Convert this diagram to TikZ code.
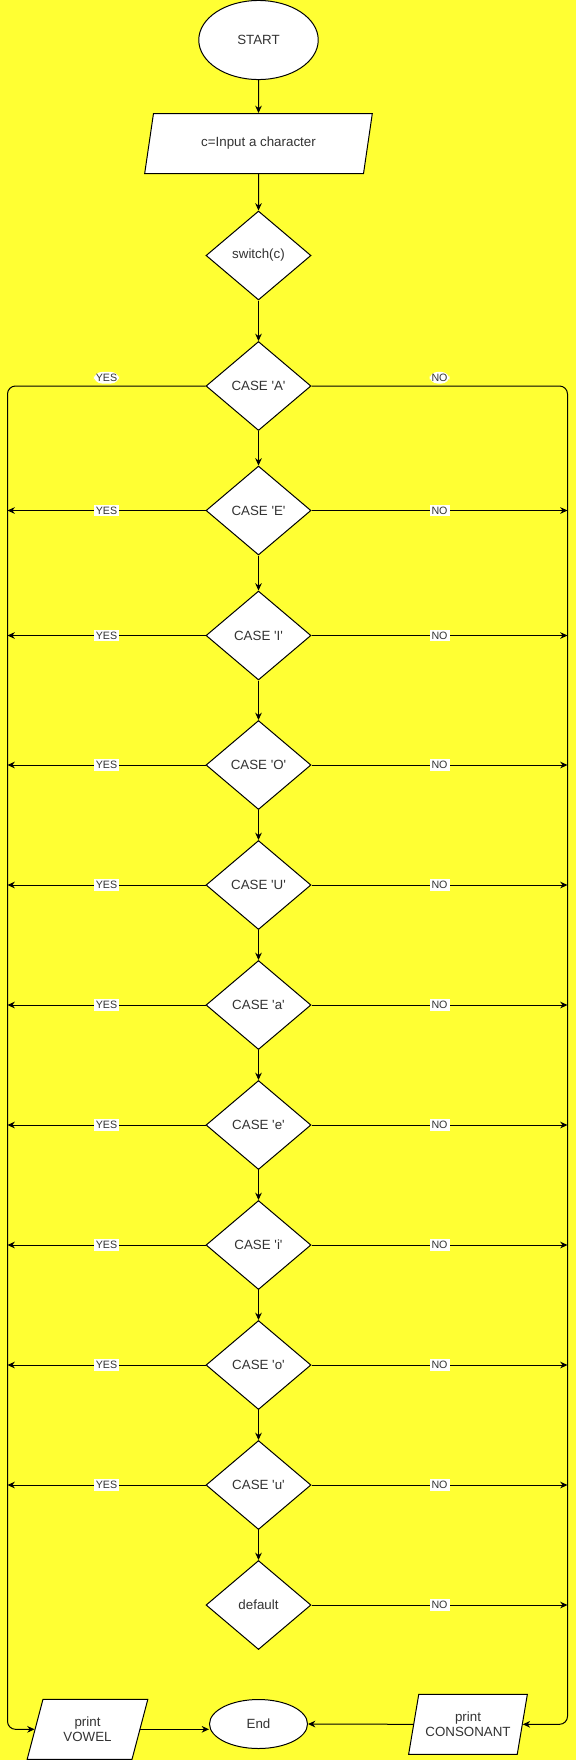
\documentclass[tikz,border=0pt]{standalone}
\usepackage{fontspec}
\setmainfont{Liberation Sans}
\usepackage{xcolor}
\usepackage{tikz}
\usetikzlibrary{shapes,arrows,positioning,calc,arrows.meta}

\definecolor{bgyellow}{HTML}{FFFF33}
\newcommand{\quoted}[1]{\textquotesingle#1\textquotesingle}

\begin{document}
\begin{tikzpicture}[x=0.75pt, y=-0.75pt, line width=0.75pt,
    font=\fontsize{10}{11.5}\selectfont, text=black!80,
    terminal/.style={ellipse, draw, fill=white},
    io/.style={trapezium, trapezium left angle=72, trapezium right angle=108, trapezium stretches=true, draw, fill=white, align=center, inner sep=1pt, minimum height=45pt},
    decision/.style={diamond, draw, fill=white, aspect=1.18, inner sep=0pt, minimum width=78.75pt, minimum height=66.75pt},
    flow/.style={-{Stealth[length=5.5pt,width=5pt]}},
    answer/.style={fill=white, inner sep=1.5pt, font=\fontsize{8}{9}\selectfont}]
        \fill[bgyellow] (0,0) rectangle (576,1760);
        \useasboundingbox (0,0) rectangle (576,1760);

        \node[terminal, minimum width=89.6pt, minimum height=59.3pt] (start) at (258.5,40) {START};
        \node[io, minimum width=172.5pt] (input) at (258.5,143.5) {c=Input a character};
        \node[decision] (switch) at (258.5,255.5) {switch(c)};

        \node[decision] (caseA) at (258.5,386) {CASE \quoted{A}};
        \node[decision] (caseE) at (258.5,510.5) {CASE \quoted{E}};
        \node[decision] (caseI) at (258.5,635.5) {CASE \quoted{I}};
        \node[decision] (caseO) at (258.5,765) {CASE \quoted{O}};
        \node[decision] (caseU) at (258.5,885) {CASE \quoted{U}};
        \node[decision] (casea) at (258.5,1005) {CASE \quoted{a}};
        \node[decision] (casee) at (258.5,1125) {CASE \quoted{e}};
        \node[decision] (casei) at (258.5,1245) {CASE \quoted{i}};
        \node[decision] (caseo) at (258.5,1365) {CASE \quoted{o}};
        \node[decision] (caseu) at (258.5,1485) {CASE \quoted{u}};
        \node[decision] (default) at (258.5,1605) {default};

        \node[terminal, minimum width=73.5pt, minimum height=36.75pt] (end) at (258.5,1724) {End};
        \node[io, minimum width=90.75pt] (vowel) at (87.5,1729.3) {print\\VOWEL};
        \node[io, minimum width=89.7pt] (consonant) at (468,1724.3) {print\\CONSONANT};

        \coordinate (railL) at (7.5,386);
        \coordinate (railR) at (567.5,386);

        \draw[flow] (start) -- (input);
        \draw[flow] (input) -- (switch);
        \draw[flow] (switch) -- (caseA);
        \draw[flow] (caseA) -- (caseE);
        \draw[flow] (caseE) -- (caseI);
        \draw[flow] (caseI) -- (caseO);
        \draw[flow] (caseO) -- (caseU);
        \draw[flow] (caseU) -- (casea);
        \draw[flow] (casea) -- (casee);
        \draw[flow] (casee) -- (casei);
        \draw[flow] (casei) -- (caseo);
        \draw[flow] (caseo) -- (caseu);
        \draw[flow] (caseu) -- (default);

        \draw[flow, rounded corners=6pt] (caseA.west) -- node[answer, above=1.5pt] {YES} (railL) -- (railL |- vowel.west) -- (vowel.west);
        \draw[flow, rounded corners=6pt] (caseA.east) -- node[answer, above=1.5pt] {NO} (railR) -- (railR |- consonant.east) -- (consonant.east);

        \draw[flow] (caseE.west) -- node[answer] {YES} (caseE.west -| railL);
        \draw[flow] (caseE.east) -- node[answer] {NO} (caseE.east -| railR);
        \draw[flow] (caseI.west) -- node[answer] {YES} (caseI.west -| railL);
        \draw[flow] (caseI.east) -- node[answer] {NO} (caseI.east -| railR);
        \draw[flow] (caseO.west) -- node[answer] {YES} (caseO.west -| railL);
        \draw[flow] (caseO.east) -- node[answer] {NO} (caseO.east -| railR);
        \draw[flow] (caseU.west) -- node[answer] {YES} (caseU.west -| railL);
        \draw[flow] (caseU.east) -- node[answer] {NO} (caseU.east -| railR);
        \draw[flow] (casea.west) -- node[answer] {YES} (casea.west -| railL);
        \draw[flow] (casea.east) -- node[answer] {NO} (casea.east -| railR);
        \draw[flow] (casee.west) -- node[answer] {YES} (casee.west -| railL);
        \draw[flow] (casee.east) -- node[answer] {NO} (casee.east -| railR);
        \draw[flow] (casei.west) -- node[answer] {YES} (casei.west -| railL);
        \draw[flow] (casei.east) -- node[answer] {NO} (casei.east -| railR);
        \draw[flow] (caseo.west) -- node[answer] {YES} (caseo.west -| railL);
        \draw[flow] (caseo.east) -- node[answer] {NO} (caseo.east -| railR);
        \draw[flow] (caseu.west) -- node[answer] {YES} (caseu.west -| railL);
        \draw[flow] (caseu.east) -- node[answer] {NO} (caseu.east -| railR);
        \draw[flow] (default.east) -- node[answer] {NO} (default.east -| railR);

        \draw[flow] (vowel.east) -- (vowel.east -| end.west);
        \draw[flow] (consonant.west) -- (end.east);
    \end{tikzpicture}
\end{document}
